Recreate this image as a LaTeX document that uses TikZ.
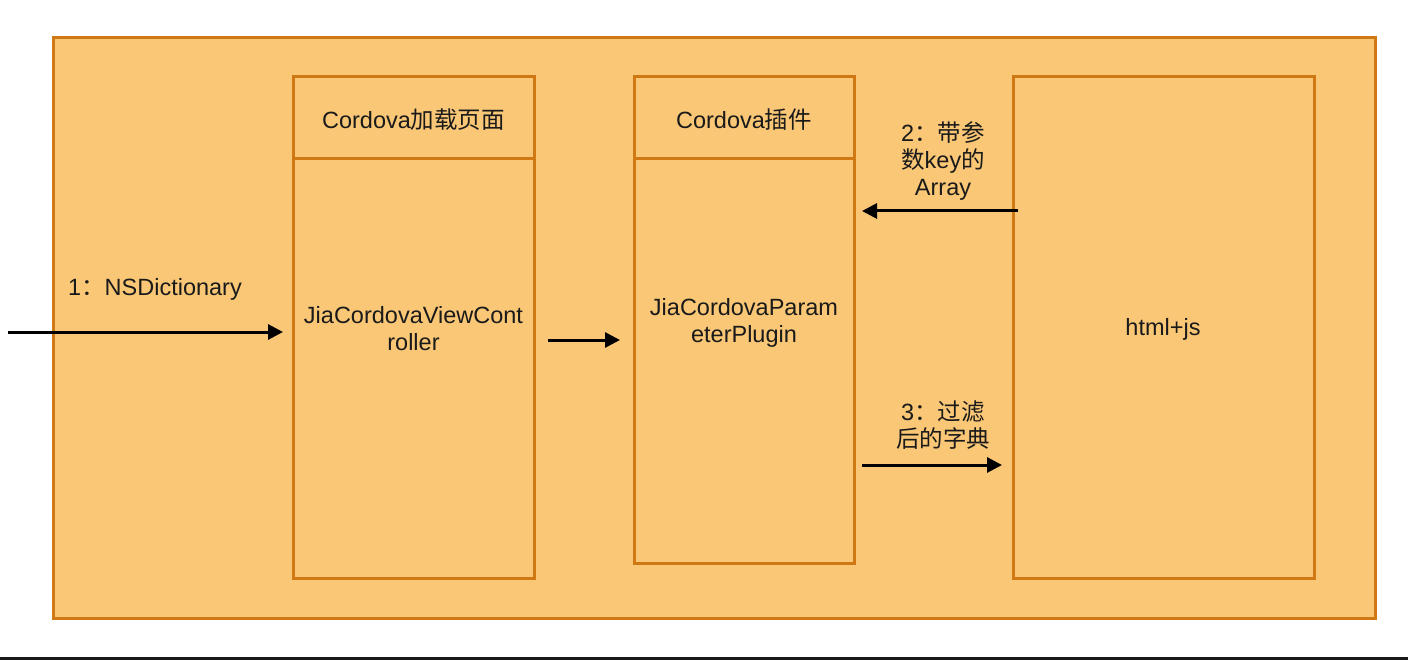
\documentclass[tikz,border=0pt]{standalone}
\usepackage{fontspec}
\setmainfont{Liberation Sans}
\newfontfamily\cjk{Noto Sans CJK SC}
\usetikzlibrary{arrows.meta}
\definecolor{boxfill}{HTML}{F9C776}
\definecolor{boxline}{HTML}{D07814}
\definecolor{txt}{HTML}{1A1A1A}
\tikzset{
  frame/.style={draw=boxline, fill=boxfill, line width=3pt, inner sep=0pt, outer sep=0pt},
  lbl/.style={text=txt, font=\fontsize{23.5}{27}\selectfont, align=center, inner sep=0pt},
  flow/.style={line width=3pt, draw=black, -{Triangle[length=15pt,width=15pt]}},
}
\begin{document}
\begin{tikzpicture}[x=1pt,y=-1pt]
\useasboundingbox (0,0) rectangle (1408,660);
\fill[white] (0,0) rectangle (1408,660);
\fill[black!90] (0,657) rectangle (1408,660);
% outer container
\node[frame, minimum width=1322pt, minimum height=580pt] (outer) at (714,328) {};
% box 1
\node[frame, minimum width=241pt, minimum height=419pt] (b1) at (413.5,368.5) {};
\node[frame, minimum width=241pt, minimum height=82pt] (h1) at (413.5,118) {};
% box 2
\node[frame, minimum width=220pt, minimum height=404pt] (b2) at (744,361) {};
\node[frame, minimum width=220pt, minimum height=82pt] (h2) at (744,118) {};
% box 3
\node[frame, minimum width=301pt, minimum height=501pt] (b3) at (1163.5,327.5) {};
% texts
\node[lbl] (t1) at (413.5,120) {Cordova{\cjk 加载页面}};
\node[lbl] (t2) at (744,120) {Cordova{\cjk 插件}};
\node[lbl] (t3) at (413.5,329) {JiaCordovaViewCont\\roller};
\node[lbl] (t4) at (744,323) {JiaCordovaParam\\eterPlugin};
\node[lbl] (t5) at (1163,329) {html+js};
\node[lbl] (l1) at (155,289) {1{\cjk ：}NSDictionary};
\node[lbl] (l2) at (943,161) {2{\cjk ：带参}\\{\cjk 数}key{\cjk 的}\\Array};
\node[lbl] (l3) at (943,425) {3{\cjk ：过滤}\\{\cjk 后的字典}};
% connectors
\coordinate (src) at (8,332);
\draw[flow, shorten >=10pt] (src) -- (src -| b1.west);
\draw[flow, shorten <=14pt, shorten >=14pt] (b1.east |- 0,340) -- (b2.west |- 0,340);
\draw[flow, shorten <=-5pt, shorten >=8pt] (b3.west |- 0,211) -- (b2.east |- 0,211);
\draw[flow, shorten <=8pt, shorten >=11pt] (b2.east |- 0,465) -- (b3.west |- 0,465);
\end{tikzpicture}
\end{document}
